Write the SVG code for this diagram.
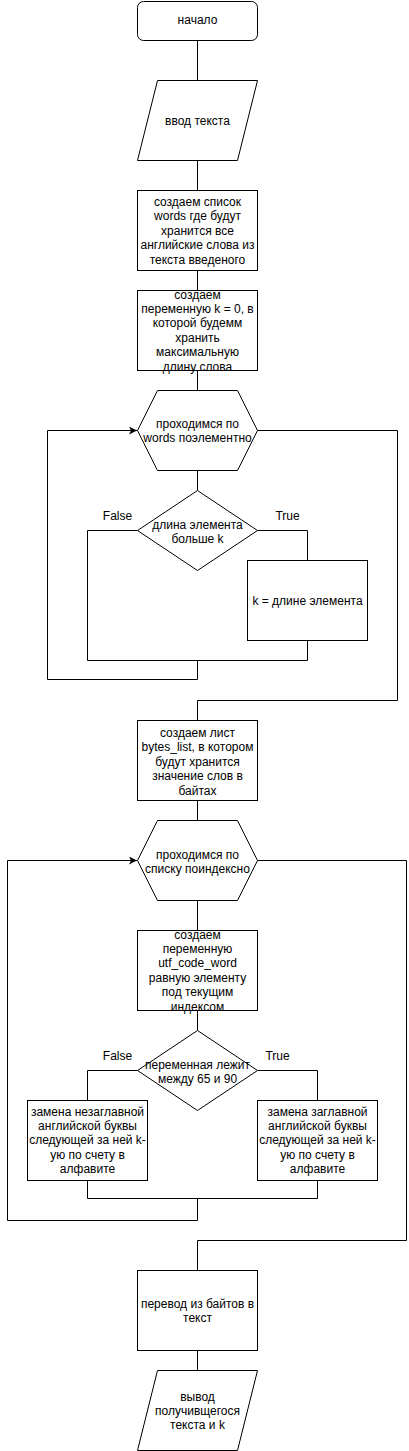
<svg xmlns="http://www.w3.org/2000/svg" width="409" height="1451" viewBox="0 0 409 1451">
<defs>
<style>
.s{fill:#fff;stroke:#000;stroke-width:1}
.c{fill:none;stroke:#000;stroke-width:1}
text{font-family:"Liberation Sans",Arial,sans-serif;font-size:12px;fill:#000;text-anchor:middle}
</style>
<marker id="arr" viewBox="0 0 10 10" refX="10" refY="5" markerWidth="8" markerHeight="8" markerUnits="userSpaceOnUse" orient="auto">
<path d="M0,0 L10,5 L0,10 L2.5,5 Z" fill="#000"/>
</marker>
</defs>
<rect width="409" height="1451" fill="#fff"/>
<g id="connectors">
<path class="c" d="M197.5,40.5 V80.5"/>
<path class="c" d="M197.5,160.5 V190.5"/>
<path class="c" d="M197.5,270.5 V290.5"/>
<path class="c" d="M197.5,370.5 V390.5"/>
<path class="c" d="M197.5,470.5 V490.5"/>
<path class="c" d="M137.5,530.5 H87.5 V660.5"/>
<path class="c" d="M257.5,530.5 H307.5 V560.5"/>
<path class="c" d="M307.5,640.5 V660.5 H87.5"/>
<path class="c" d="M197.5,660.5 V679.5 H47.5 V430.5 H137" marker-end="url(#arr)"/>
<path class="c" d="M257.5,430.5 H397.5 V700.5 H197.5 V720.5"/>
<path class="c" d="M197.5,800.5 V820.5"/>
<path class="c" d="M197.5,900.5 V930.5"/>
<path class="c" d="M197.5,1010.5 V1030.5"/>
<path class="c" d="M137.5,1070.5 H87.5 V1100.5"/>
<path class="c" d="M257.5,1070.5 H317.5 V1100.5"/>
<path class="c" d="M87.5,1180.5 V1198.5 H317.5 V1180.5"/>
<path class="c" d="M197.5,1198.5 V1220.5 H7.5 V860.5 H137" marker-end="url(#arr)"/>
<path class="c" d="M257.5,860.5 H406.5 V1240.5 H197.5 V1270.5"/>
<path class="c" d="M197.5,1350.5 V1370.5"/>
</g>
<g id="start">
<rect class="s" x="137.5" y="1.5" width="120" height="39" rx="6"/>
<text x="197.5" y="24">начало</text>
</g>
<g id="input">
<polygon class="s" points="157.5,80.5 257.5,80.5 237.5,160.5 137.5,160.5"/>
<text x="197.5" y="125">ввод текста</text>
</g>
<g id="create-words">
<rect class="s" x="137.5" y="190.5" width="120" height="80"/>
<text x="197.5"><tspan x="197.5" y="206">создаем список</tspan><tspan x="197.5" y="220.4">words где будут</tspan><tspan x="197.5" y="234.8">хранится все</tspan><tspan x="197.5" y="249.2">английские слова из</tspan><tspan x="197.5" y="263.6">текста введеного</tspan></text>
</g>
<g id="create-k">
<rect class="s" x="137.5" y="290.5" width="120" height="80"/>
<text x="197.5"><tspan x="197.5" y="298.5">создаем</tspan><tspan x="197.5" y="312.9">переменную k = 0, в</tspan><tspan x="197.5" y="327.3">которой будемм</tspan><tspan x="197.5" y="341.7">хранить</tspan><tspan x="197.5" y="356.1">максимальную</tspan><tspan x="197.5" y="370.5">длину слова</tspan></text>
</g>
<g id="loop-words">
<polygon class="s" points="137.5,430.5 157.5,390.5 237.5,390.5 257.5,430.5 237.5,470.5 157.5,470.5"/>
<text x="197.5"><tspan x="197.5" y="428">проходимся по</tspan><tspan x="197.5" y="442.4">words поэлементно</tspan></text>
</g>
<g id="cond-length">
<polygon class="s" points="197.5,490.5 257.5,530.5 197.5,570.5 137.5,530.5"/>
<text x="197.5"><tspan x="197.5" y="529">длина элемента</tspan><tspan x="197.5" y="543.4">больше k</tspan></text>
<text x="117.5" y="520">False</text>
<text x="287.5" y="520">True</text>
</g>
<g id="set-k">
<rect class="s" x="247.5" y="560.5" width="120" height="80"/>
<text x="307.5" y="604.5">k = длине элемента</text>
</g>
<g id="create-bytes">
<rect class="s" x="137.5" y="720.5" width="120" height="80"/>
<text x="197.5"><tspan x="197.5" y="737">создаем лист</tspan><tspan x="197.5" y="751.4">bytes_list, в котором</tspan><tspan x="197.5" y="765.8">будут хранится</tspan><tspan x="197.5" y="780.2">значение слов в</tspan><tspan x="197.5" y="794.6">байтах</tspan></text>
</g>
<g id="loop-index">
<polygon class="s" points="137.5,860.5 157.5,820.5 237.5,820.5 257.5,860.5 237.5,900.5 157.5,900.5"/>
<text x="197.5"><tspan x="197.5" y="858.5">проходимся по</tspan><tspan x="197.5" y="872.9">списку поиндексно</tspan></text>
</g>
<g id="create-utf">
<rect class="s" x="137.5" y="930.5" width="120" height="80"/>
<text x="197.5"><tspan x="197.5" y="938.5">создаем</tspan><tspan x="197.5" y="952.9">переменную</tspan><tspan x="197.5" y="967.3">utf_code_word</tspan><tspan x="197.5" y="981.7">равную элементу</tspan><tspan x="197.5" y="996.1">под текущим</tspan><tspan x="197.5" y="1010.5">индексом</tspan></text>
</g>
<g id="cond-range">
<polygon class="s" points="197.5,1030.5 257.5,1070.5 197.5,1110.5 137.5,1070.5"/>
<text x="197.5"><tspan x="197.5" y="1069">переменная лежит</tspan><tspan x="197.5" y="1083.4">между 65 и 90</tspan></text>
<text x="117.5" y="1060">False</text>
<text x="277.5" y="1060">True</text>
</g>
<g id="replace-lower">
<rect class="s" x="27.5" y="1100.5" width="120" height="80"/>
<text x="87.5"><tspan x="87.5" y="1115.5">замена незаглавной</tspan><tspan x="87.5" y="1129.9">английской буквы</tspan><tspan x="87.5" y="1144.3">следующей за ней k-</tspan><tspan x="87.5" y="1158.7">ую по счету в</tspan><tspan x="87.5" y="1173.1">алфавите</tspan></text>
</g>
<g id="replace-upper">
<rect class="s" x="257.5" y="1100.5" width="120" height="80"/>
<text x="317.5"><tspan x="317.5" y="1115.5">замена заглавной</tspan><tspan x="317.5" y="1129.9">английской буквы</tspan><tspan x="317.5" y="1144.3">следующей за ней k-</tspan><tspan x="317.5" y="1158.7">ую по счету в</tspan><tspan x="317.5" y="1173.1">алфавите</tspan></text>
</g>
<g id="decode">
<rect class="s" x="137.5" y="1270.5" width="120" height="80"/>
<text x="197.5"><tspan x="197.5" y="1308">перевод из байтов в</tspan><tspan x="197.5" y="1322.4">текст</tspan></text>
</g>
<g id="output">
<polygon class="s" points="157.5,1370.5 257.5,1370.5 237.5,1450.5 137.5,1450.5"/>
<text x="197.5"><tspan x="197.5" y="1400.6">вывод</tspan><tspan x="197.5" y="1415">получивщегося</tspan><tspan x="197.5" y="1429.4">текста и k</tspan></text>
</g>
</svg>
